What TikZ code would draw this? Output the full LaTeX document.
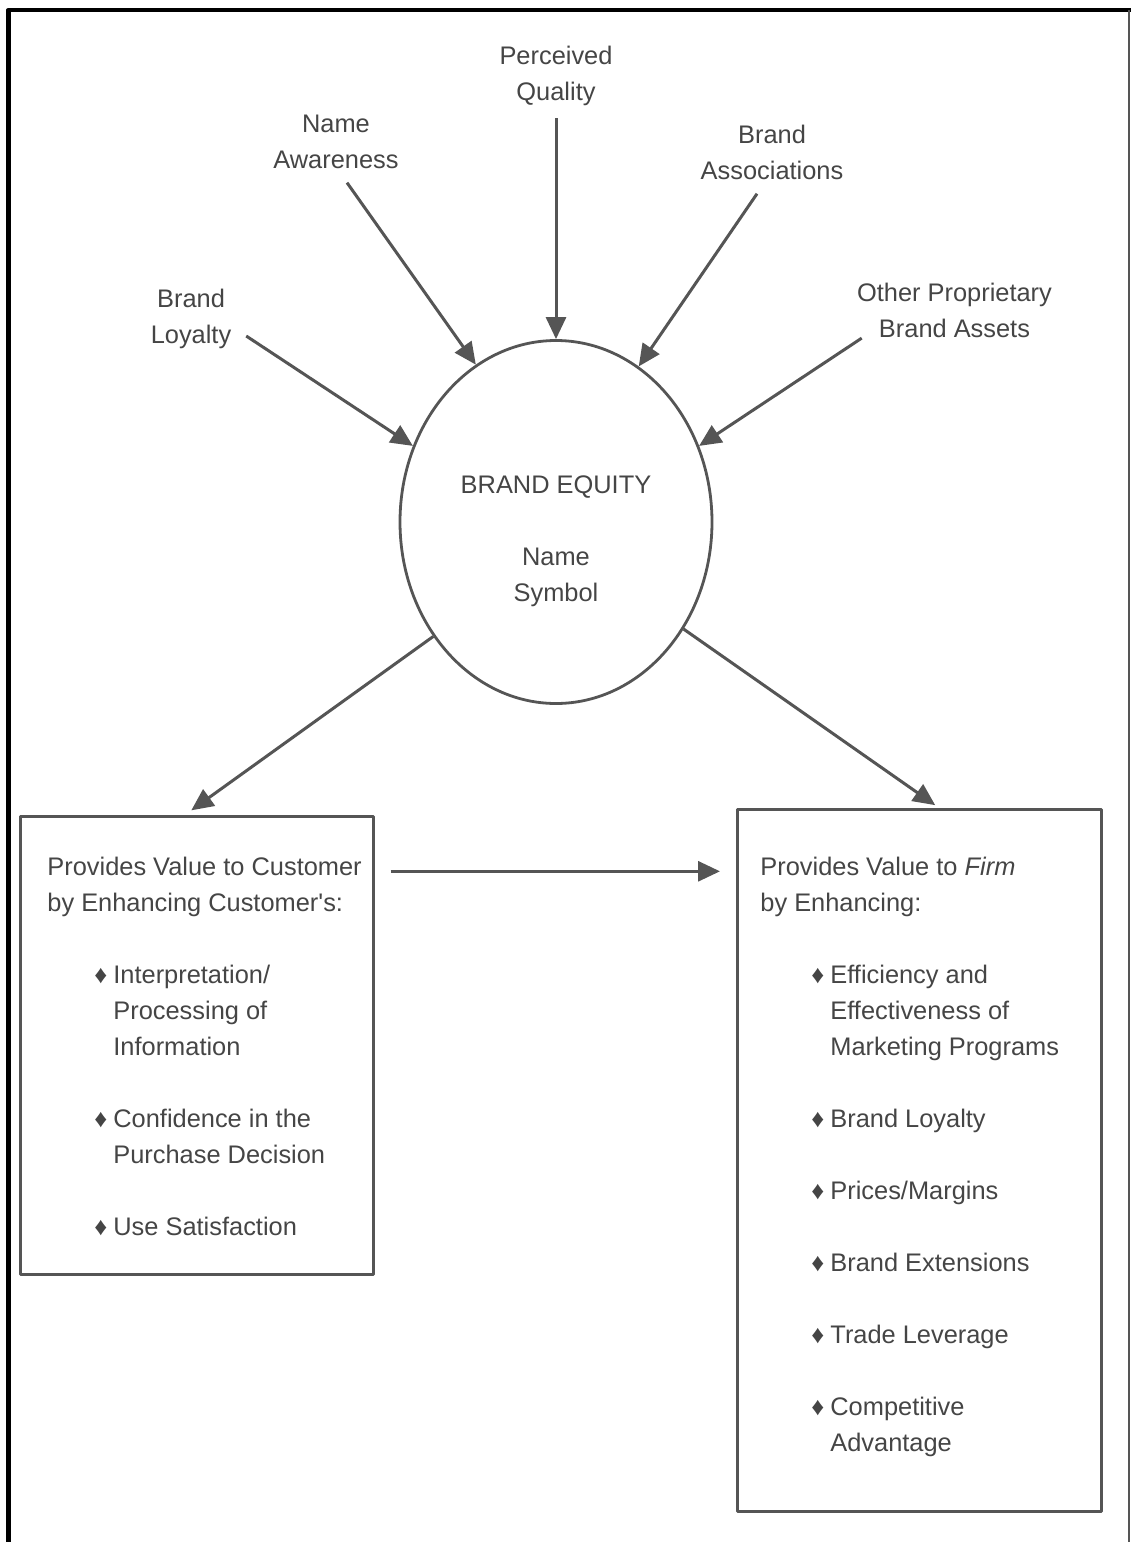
\documentclass[tikz,border=0pt]{standalone}
\usepackage{fontspec}
\setmainfont{Liberation Sans}
\usetikzlibrary{arrows.meta,shapes.geometric}

\definecolor{trait}{HTML}{555555}
\definecolor{texte}{HTML}{454545}

\newcommand{\puce}{\makebox[33pt][r]{♦\hspace{3pt}}}
\newcommand{\suite}{\hspace*{33pt}}

\begin{document}
\begin{tikzpicture}[x=0.5pt, y=-0.5pt, line join=round,
    fleche/.style={trait, line width=1.5pt, -{Triangle[length=11pt, width=10pt]}},
    etiquette/.style={texte, align=center, inner sep=2pt, font=\fontsize{12.7}{18}\selectfont},
    corps/.style={texte, align=left, inner sep=0pt, anchor=north west, font=\fontsize{12.7}{18}\selectfont},
    boite/.style={draw=trait, line width=1.3pt, inner sep=0pt, anchor=north west}]

    \useasboundingbox (0,0) rectangle (1131,1542);

    % Cadre de la page
    \draw[black, line width=2.4pt] (8.5,1542) -- (8.5,10) -- (1131,10);
    \draw[trait, line width=0.6pt] (1129,10) -- (1129,1542);

    % Cercle central
    \node[ellipse, draw=trait, line width=1.4pt, minimum width=156pt, minimum height=181.5pt, inner sep=0pt] (equity) at (556,522) {};
    \node[etiquette] (equitytxt) at (556,541.5) {BRAND EQUITY\\[18pt]Name\\Symbol};

    % Les cinq composantes
    \node[etiquette] (quality) at (556,75.6) {Perceived\\Quality};
    \node[etiquette] (awareness) at (336,141.4) {Name\\Awareness};
    \node[etiquette] (associations) at (772,152) {Brand\\Associations};
    \node[etiquette] (loyalty) at (191,318.6) {Brand\\Loyalty};
    \node[etiquette] (assets) at (954.5,310.4) {Other Proprietary\\Brand Assets};

    \draw[fleche, shorten <=4.3pt] (quality.south) -- (equity.90);
    \draw[fleche] ([xshift=5.5pt, yshift=-5pt]awareness.south) -- (equity.117);
    \draw[fleche] ([xshift=-7.5pt, yshift=-5pt]associations.south) -- (equity.62);
    \draw[fleche] ([xshift=5.3pt, yshift=-8.7pt]loyalty.east) -- (equity.152);
    \draw[fleche] ([xshift=4.5pt, yshift=2pt]assets.south west) -- (equity.28);

    % Boite de gauche (client)
    \node[boite, minimum width=176.5pt, minimum height=229pt] (client) at (19,815) {};
    \node[corps] (clienttxt) at (47,857) {Provides Value to Customer\\
        by Enhancing Customer\textquotesingle s:\\[18pt]
        \puce Interpretation/\\
        \suite Processing of\\
        \suite Information\\[18pt]
        \puce Confidence in the\\
        \suite Purchase Decision\\[18pt]
        \puce Use Satisfaction};

    % Boite de droite (firme)
    \node[boite, minimum width=182pt, minimum height=351pt] (firme) at (736,808) {};
    \node[corps] (firmetxt) at (760,857) {Provides Value to \textit{Firm}\\
        by Enhancing:\\[18pt]
        \suite\hspace{2pt}\llap{♦\hspace{3pt}}Efficiency and\\
        \suite\hspace{2pt}Effectiveness of\\
        \suite\hspace{2pt}Marketing Programs\\[18pt]
        \suite\hspace{2pt}\llap{♦\hspace{3pt}}Brand Loyalty\\[18pt]
        \suite\hspace{2pt}\llap{♦\hspace{3pt}}Prices/Margins\\[18pt]
        \suite\hspace{2pt}\llap{♦\hspace{3pt}}Brand Extensions\\[18pt]
        \suite\hspace{2pt}\llap{♦\hspace{3pt}}Trade Leverage\\[18pt]
        \suite\hspace{2pt}\llap{♦\hspace{3pt}}Competitive\\
        \suite\hspace{2pt}Advantage};

    % Fleches vers les boites
    \draw[fleche, shorten >=4pt] (equity.223) -- ([xshift=-6pt]client.north);
    \draw[fleche, shorten >=2.5pt] (equity.320) -- ([xshift=10pt]firme.north);
    \draw[fleche, shorten <=8pt, shorten >=8pt] ([yshift=87pt]client.east) -- ([yshift=87pt]client.east -| firme.west);

\end{tikzpicture}
\end{document}
